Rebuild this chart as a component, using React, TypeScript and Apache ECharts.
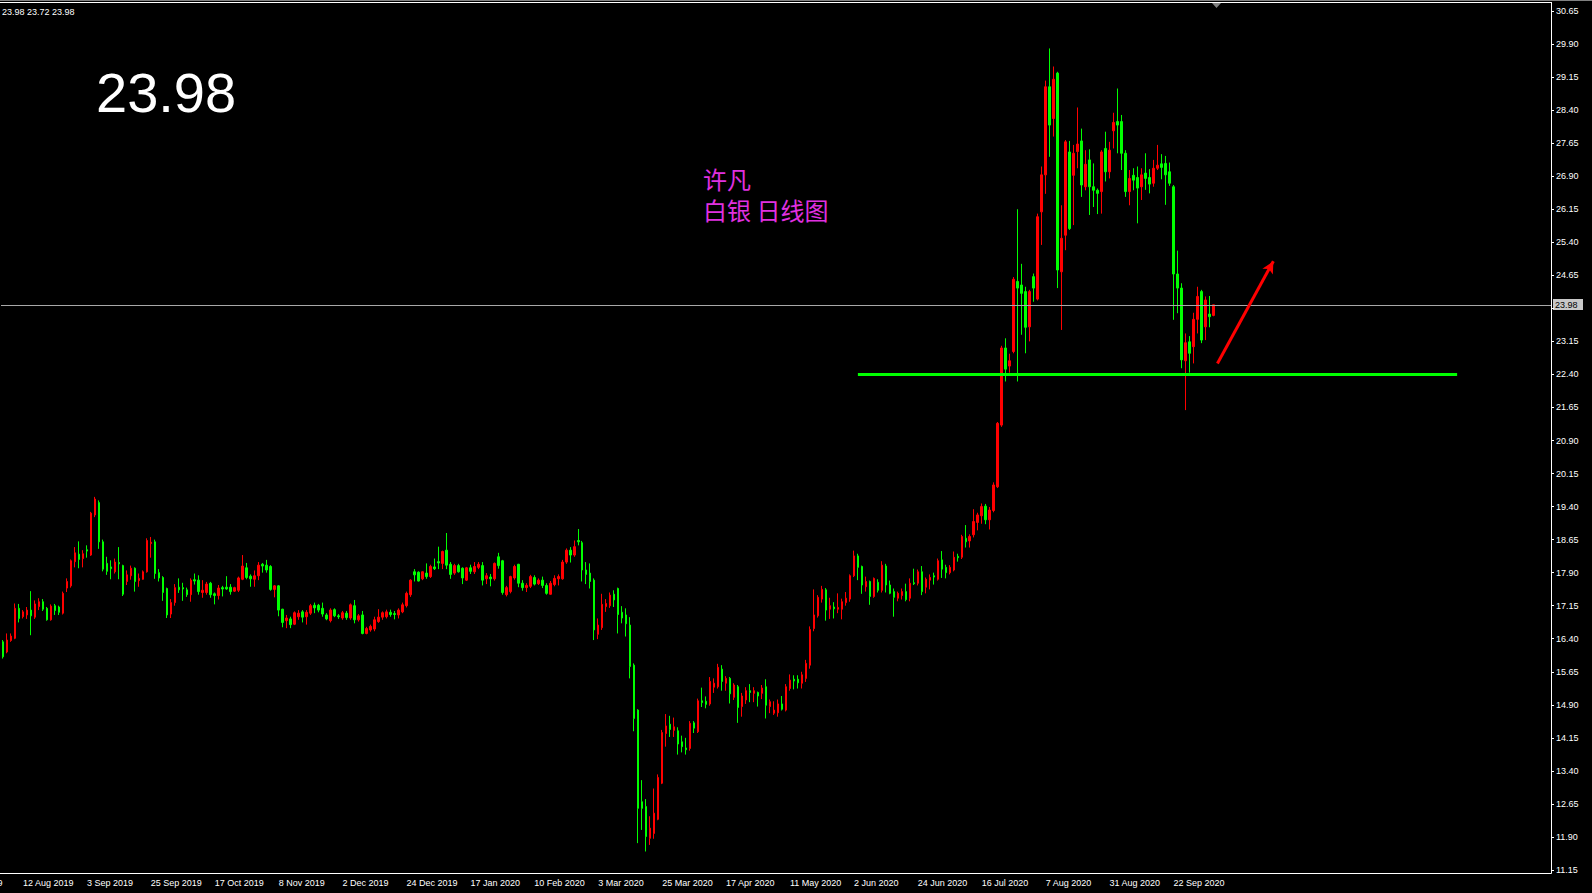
import React, { useEffect, useRef } from "react";
import * as echarts from "echarts";

// candle tuple: [open, close, low, high]
type C = [number, number, number, number];

const augSep2019: C[] = [
  [16.33, 15.99, 15.95, 16.37], [16.1, 16.37, 16.07, 16.52], [16.36, 16.46, 16.33, 16.52], [16.41, 17.09, 16.39, 17.2],
  [17.09, 16.86, 16.77, 17.19], [16.9, 17.01, 16.86, 17.05], [16.94, 17.05, 16.85, 17.12], [17.05, 16.92, 16.48, 17.48],
  [16.89, 17.19, 16.85, 17.27], [17.13, 17.24, 17.05, 17.32], [17.24, 17.07, 17.03, 17.3], [17.09, 16.83, 16.81, 17.12],
  [16.83, 17.14, 16.81, 17.18], [17.15, 17.04, 16.94, 17.19], [17.12, 17.0, 16.94, 17.15], [16.98, 17.43, 16.95, 17.47],
  [17.55, 17.7, 17.46, 17.77], [17.6, 18.17, 17.56, 18.2], [18.15, 18.35, 18.02, 18.48], [18.32, 18.2, 18.0, 18.61],
  [18.22, 18.33, 18.02, 18.41], [18.42, 18.39, 18.24, 18.52], [18.3, 19.25, 18.28, 19.28], [19.21, 19.57, 19.16, 19.62],
  [19.49, 18.6, 18.44, 19.54], [18.6, 17.98, 17.93, 18.65], [18.11, 17.93, 17.85, 18.26], [18.03, 17.99, 17.75, 18.18],
  [17.92, 18.14, 17.88, 18.22], [18.13, 18.1, 17.75, 18.48], [18.06, 17.41, 17.37, 18.08], [17.7, 17.85, 17.62, 17.95],
];
const sepOct2019: C[] = [
  [17.83, 18.0, 17.74, 18.06], [18.0, 17.7, 17.47, 18.02], [17.72, 17.77, 17.58, 17.88], [17.75, 17.92, 17.74, 17.95],
  [17.92, 18.63, 17.9, 18.68], [18.56, 18.59, 18.24, 18.71], [18.6, 17.88, 17.76, 18.65], [17.9, 17.78, 17.7, 17.98],
  [17.79, 17.45, 17.26, 17.82], [17.54, 16.94, 16.87, 17.56], [16.96, 17.22, 16.87, 17.3], [17.22, 17.56, 17.15, 17.64],
  [17.57, 17.51, 17.44, 17.77], [17.56, 17.53, 17.26, 17.67], [17.51, 17.4, 17.35, 17.56], [17.4, 17.73, 17.24, 17.77],
  [17.74, 17.71, 17.63, 17.88], [17.73, 17.47, 17.4, 17.84], [17.45, 17.5, 17.33, 17.73], [17.45, 17.64, 17.4, 17.69],
  [17.66, 17.4, 17.33, 17.69], [17.42, 17.38, 17.18, 17.45], [17.38, 17.55, 17.29, 17.62], [17.56, 17.53, 17.36, 17.6],
  [17.57, 17.53, 17.51, 17.82], [17.57, 17.47, 17.4, 17.64], [17.48, 17.56, 17.46, 17.58], [17.5, 17.78, 17.46, 17.81],
  [17.75, 18.05, 17.73, 18.3], [18.01, 17.79, 17.75, 18.12], [17.82, 17.76, 17.58, 17.86], [17.75, 17.83, 17.58, 17.95],
];
const novDec2019: C[] = [
  [17.83, 18.07, 17.73, 18.14], [18.09, 18.05, 17.9, 18.12], [18.07, 17.96, 17.9, 18.19], [18.04, 17.52, 17.49, 18.07],
  [17.52, 17.6, 17.34, 17.62], [17.6, 17.05, 16.91, 17.62], [17.07, 16.77, 16.66, 17.08], [16.81, 16.87, 16.64, 16.94],
  [16.85, 16.72, 16.64, 16.9], [16.73, 16.99, 16.71, 17.02], [16.9, 16.98, 16.83, 17.05], [17.01, 16.89, 16.77, 17.05],
  [16.9, 17.0, 16.72, 17.05], [16.98, 17.15, 16.94, 17.19], [17.16, 17.1, 16.98, 17.22], [17.16, 17.05, 17.0, 17.19],
  [17.09, 16.96, 16.9, 17.22], [16.94, 16.85, 16.82, 16.98], [16.81, 17.05, 16.77, 17.09], [17.06, 16.92, 16.89, 17.09],
  [16.92, 16.9, 16.85, 16.96], [16.87, 16.99, 16.83, 17.03], [16.98, 16.88, 16.83, 17.03], [16.87, 17.17, 16.83, 17.2],
  [17.15, 16.83, 16.75, 17.28], [16.83, 16.92, 16.79, 16.96], [16.94, 16.52, 16.5, 17.03], [16.52, 16.63, 16.5, 16.67],
  [16.6, 16.68, 16.56, 16.72], [16.62, 16.83, 16.57, 16.9], [16.79, 16.89, 16.76, 17.07],
];
const decJan2020: C[] = [
  [16.89, 16.99, 16.83, 17.02], [16.9, 17.01, 16.86, 17.06], [17.0, 16.95, 16.9, 17.06], [16.97, 16.95, 16.84, 17.03],
  [16.94, 17.05, 16.86, 17.09], [17.01, 17.17, 16.98, 17.22], [17.15, 17.43, 17.11, 17.47], [17.4, 17.73, 17.35, 17.75],
  [17.92, 17.85, 17.7, 17.98], [17.91, 17.71, 17.7, 17.93], [17.76, 17.92, 17.73, 17.93], [17.89, 17.81, 17.76, 18.11],
  [17.81, 18.04, 17.78, 18.08], [18.03, 17.99, 17.96, 18.22], [18.15, 18.12, 17.98, 18.49], [18.11, 18.38, 17.98, 18.4],
  [18.41, 18.07, 17.98, 18.8], [18.09, 17.86, 17.76, 18.14], [17.89, 18.06, 17.85, 18.1], [18.06, 17.92, 17.9, 18.1],
  [18.0, 17.78, 17.64, 18.02], [17.73, 18.01, 17.71, 18.03], [18.01, 17.93, 17.87, 18.08], [17.92, 18.04, 17.87, 18.14],
  [18.02, 18.09, 17.98, 18.14], [18.06, 17.73, 17.61, 18.14], [17.76, 17.83, 17.64, 17.89], [17.8, 17.76, 17.59, 17.87],
  [17.76, 18.11, 17.72, 18.13], [18.26, 18.06, 17.99, 18.35], [18.17, 17.45, 17.4, 18.19],
];
const febMar2020: C[] = [
  [17.4, 17.56, 17.36, 17.6], [17.47, 17.81, 17.43, 17.83], [17.78, 18.04, 17.74, 18.08], [18.09, 17.66, 17.57, 18.1],
  [17.66, 17.56, 17.49, 17.73], [17.56, 17.61, 17.46, 17.66], [17.59, 17.81, 17.55, 17.85], [17.79, 17.64, 17.61, 17.84],
  [17.65, 17.73, 17.62, 17.77], [17.73, 17.61, 17.55, 17.81], [17.61, 17.43, 17.4, 17.66], [17.41, 17.66, 17.4, 17.71],
  [17.63, 17.77, 17.59, 17.84], [17.76, 17.81, 17.61, 17.86], [17.76, 18.14, 17.74, 18.19], [18.14, 18.41, 18.1, 18.45],
  [18.41, 18.3, 18.13, 18.48], [18.3, 18.49, 18.26, 18.63], [18.63, 18.6, 18.52, 18.89], [18.58, 17.96, 17.7, 18.62],
  [17.96, 17.86, 17.64, 18.14], [17.89, 17.7, 17.54, 18.11], [17.73, 16.6, 16.37, 17.77], [16.5, 16.71, 16.39, 16.86],
  [16.65, 17.18, 16.6, 17.42], [17.13, 17.2, 17.01, 17.3], [17.15, 17.39, 17.1, 17.45], [17.41, 17.28, 17.12, 17.5],
  [17.54, 16.95, 16.52, 17.56], [17.0, 16.87, 16.75, 17.14], [16.94, 16.74, 16.45, 17.09], [16.71, 15.77, 15.5, 16.89],
];
const marApr2020: C[] = [
  [15.8, 14.59, 14.3, 15.84], [14.78, 12.55, 11.76, 14.8], [12.7, 12.55, 12.06, 13.19], [12.59, 11.91, 11.57, 12.76],
  [11.87, 12.1, 11.72, 12.37], [11.98, 12.44, 11.86, 13.0], [12.3, 13.25, 12.28, 13.32], [13.12, 14.27, 13.1, 14.33],
  [14.25, 14.42, 13.95, 14.69], [14.46, 14.34, 14.17, 14.65], [14.32, 14.4, 14.17, 14.61], [14.31, 14.01, 13.77, 14.39],
  [14.06, 13.95, 13.82, 14.2], [13.92, 13.88, 13.77, 14.15], [13.91, 14.48, 13.86, 14.53], [14.49, 14.37, 14.26, 14.53],
  [14.29, 14.99, 14.26, 15.04], [14.99, 14.95, 14.85, 15.29], [14.98, 14.91, 14.82, 15.09], [14.92, 15.43, 14.88, 15.53],
  [15.3, 15.39, 15.17, 15.5], [15.31, 15.75, 15.27, 15.83], [15.71, 15.43, 15.22, 15.8], [15.39, 15.5, 15.22, 15.55],
  [15.5, 15.15, 14.93, 15.53], [15.07, 15.35, 15.01, 15.39], [15.31, 14.84, 14.49, 15.35],
];
const aprJun2020: C[] = [
  [14.86, 15.1, 14.63, 15.17], [15.01, 15.22, 14.92, 15.3], [15.22, 15.18, 14.96, 15.37], [15.16, 15.22, 14.96, 15.3],
  [15.18, 15.1, 14.86, 15.2], [15.16, 15.28, 15.03, 15.35], [15.31, 14.89, 14.59, 15.48], [14.86, 14.97, 14.71, 15.02],
  [14.71, 14.78, 14.67, 14.98], [14.72, 14.92, 14.63, 15.02], [14.92, 14.8, 14.77, 15.1], [14.78, 15.31, 14.75, 15.37],
  [15.27, 15.46, 15.22, 15.59], [15.48, 15.44, 15.25, 15.57], [15.48, 15.4, 15.27, 15.57], [15.39, 15.58, 15.27, 15.65],
  [15.5, 15.84, 15.42, 15.92], [15.8, 16.61, 15.72, 16.68], [16.63, 16.94, 16.57, 17.52], [16.92, 17.34, 16.88, 17.39],
  [17.3, 17.52, 17.22, 17.6], [17.51, 17.05, 16.81, 17.55], [17.07, 17.15, 16.85, 17.33], [17.12, 17.08, 16.86, 17.23],
  [17.07, 17.11, 16.98, 17.43], [17.07, 17.24, 16.84, 17.31], [17.22, 17.32, 17.15, 17.46], [17.3, 17.83, 17.24, 17.86],
  [17.83, 18.28, 17.8, 18.4],
];
const junJul2020: C[] = [
  [18.28, 18.02, 17.73, 18.33], [18.04, 17.62, 17.42, 18.06], [17.58, 17.7, 17.47, 17.81], [17.7, 17.36, 17.17, 17.72],
  [17.36, 17.77, 17.33, 17.79], [17.68, 17.5, 17.45, 17.75], [17.5, 18.07, 17.45, 18.16], [18.05, 17.62, 17.45, 18.1],
  [17.62, 17.43, 17.41, 17.72], [17.47, 17.34, 16.9, 17.54], [17.32, 17.43, 17.25, 17.47], [17.38, 17.47, 17.29, 17.54],
  [17.47, 17.29, 17.25, 17.65], [17.32, 17.66, 17.25, 17.77], [17.67, 17.65, 17.62, 17.99], [17.66, 17.92, 17.61, 17.97],
  [17.92, 17.47, 17.39, 18.05], [17.57, 17.75, 17.43, 17.79], [17.73, 17.79, 17.52, 17.86], [17.83, 17.8, 17.63, 17.9],
  [17.75, 18.17, 17.72, 18.22], [18.19, 17.98, 17.78, 18.39], [18.02, 17.9, 17.77, 18.08], [17.9, 18.02, 17.86, 18.07],
  [17.96, 18.25, 17.93, 18.38], [18.27, 18.24, 18.15, 18.33], [18.25, 18.72, 18.21, 18.76], [18.68, 18.6, 18.47, 18.98],
  [18.62, 18.72, 18.47, 18.77], [18.76, 19.06, 18.7, 19.34], [19.04, 19.21, 18.86, 19.26], [19.19, 19.4, 19.01, 19.47],
];
const julAug2020: C[] = [
  [19.41, 19.1, 19.0, 19.46], [19.1, 19.32, 18.88, 19.39], [19.31, 19.89, 19.27, 19.95], [19.85, 21.29, 19.82, 21.32],
  [21.25, 23.0, 21.21, 23.05], [23.0, 22.52, 22.24, 23.22], [22.59, 22.71, 22.44, 22.87], [22.92, 24.56, 22.88, 24.61],
  [24.51, 24.36, 22.24, 26.15], [24.43, 24.24, 23.3, 24.91], [24.28, 23.47, 22.88, 24.39], [23.48, 24.28, 23.15, 24.32],
  [24.62, 24.36, 24.05, 24.69], [24.11, 25.98, 24.08, 26.05], [26.09, 26.93, 25.34, 27.12], [26.93, 28.93, 26.5, 29.07],
  [28.93, 28.06, 27.34, 29.8], [28.21, 29.1, 27.8, 29.39], [29.24, 24.77, 24.36, 29.27],
];
const augSep2020: C[] = [
  [24.73, 25.49, 23.41, 26.24], [25.56, 27.68, 25.22, 27.72], [27.45, 25.71, 25.68, 27.7], [26.92, 27.42, 25.79, 27.61],
  [27.46, 27.63, 27.08, 28.46], [27.7, 26.7, 26.43, 27.98], [26.66, 27.17, 26.58, 27.49], [27.27, 26.66, 26.02, 27.51],
  [26.66, 26.58, 26.2, 27.19], [26.58, 26.51, 26.04, 26.62], [26.55, 27.45, 26.05, 27.49], [27.53, 27.0, 26.78, 27.91],
  [27.0, 27.49, 26.85, 27.68], [27.93, 28.12, 27.53, 28.34], [28.14, 28.06, 27.42, 28.89], [28.14, 27.42, 27.04, 28.29],
  [27.42, 26.55, 26.43, 27.49], [26.55, 26.85, 26.24, 27.04], [26.92, 26.81, 26.58, 27.08],
];
const sepOct2020: C[] = [
  [26.87, 26.63, 25.83, 27.12], [26.66, 26.93, 26.36, 27.08], [26.97, 26.85, 26.59, 27.42], [26.87, 26.72, 26.51, 27.06],
  [26.74, 27.08, 26.66, 27.27], [27.08, 27.15, 27.04, 27.61], [27.18, 27.1, 26.83, 27.4], [27.19, 26.93, 26.25, 27.36],
  [27.0, 26.74, 26.68, 27.21], [26.66, 24.68, 23.64, 26.7], [24.68, 24.36, 23.79, 25.21], [24.36, 22.73, 22.54, 24.47],
  [22.71, 23.12, 21.59, 23.33], [23.14, 22.88, 22.44, 23.27], [23.03, 23.65, 22.65, 23.8], [23.65, 24.17, 23.33, 24.39],
  [24.28, 23.18, 23.11, 24.32], [23.48, 24.09, 23.18, 24.17], [23.77, 23.71, 23.47, 24.18], [23.74, 23.98, 23.72, 23.98],
];

const dateTickLabels = [
  "12 Aug 2019", "3 Sep 2019", "25 Sep 2019", "17 Oct 2019", "8 Nov 2019", "2 Dec 2019", "24 Dec 2019",
  "17 Jan 2020", "10 Feb 2020", "3 Mar 2020", "25 Mar 2020", "17 Apr 2020", "11 May 2020", "2 Jun 2020",
  "24 Jun 2020", "16 Jul 2020", "7 Aug 2020", "31 Aug 2020", "22 Sep 2020",
];
const firstTickBar = 6;
const tickEveryBars = 16;
const cutLabel = "19 Jul 2019";

const lastPrice = 23.98;
const headerText = "23.98 23.72 23.98";
const noteText = "许凡\n白银 日线图";
const supportLevel = 22.41;
const supportFrom = 214;
const supportTo = 364;
const arrowFrom: [number, number] = [304, 22.65];
const arrowTo: [number, number] = [318, 24.97];

const priceMin = 11.15;
const priceMax = 30.65;
const priceStep = 0.75;

const TOTAL_SLOTS = 388;

export default function App() {
  const ref = useRef<HTMLDivElement>(null);
  useEffect(() => {
    if (!ref.current) return;
    const chart = echarts.init(ref.current, undefined, { renderer: "svg" });
    const candles: C[] = [
      ...augSep2019, ...sepOct2019, ...novDec2019, ...decJan2020, ...febMar2020, ...marApr2020,
      ...aprJun2020, ...junJul2020, ...julAug2020, ...augSep2020, ...sepOct2020,
    ];
    const cats = Array.from({ length: TOTAL_SLOTS }, (_, i) => String(i));
    // MT4 draws the date text starting one bar before the bar it names
    const labelAt: Record<number, string> = {};
    dateTickLabels.forEach((t, j) => {
      labelAt[firstTickBar + j * tickEveryBars - 1] = t;
    });
    const font = "'Liberation Sans', Arial, sans-serif";
    chart.setOption({
      animation: false,
      backgroundColor: "#000000",
      grid: { left: -1, top: 11, width: TOTAL_SLOTS * 4, height: 859, containLabel: false },
      xAxis: {
        type: "category",
        data: cats,
        boundaryGap: true,
        axisLine: { show: false },
        axisTick: { show: false },
        splitLine: { show: false },
        axisLabel: {
          interval: 0,
          align: "left",
          margin: 8,
          color: "#ffffff",
          fontSize: 9,
          fontFamily: font,
          formatter: (_v: string, idx: number) => labelAt[idx] || "",
        },
      },
      yAxis: {
        type: "value",
        position: "right",
        min: priceMin,
        max: priceMax,
        interval: priceStep,
        scale: true,
        axisLine: { show: false },
        axisTick: { show: true, length: 3, lineStyle: { color: "#ffffff" } },
        splitLine: { show: false },
        axisLabel: {
          color: "#ffffff",
          fontSize: 9,
          fontFamily: font,
          margin: 5,
          // the label under the current-price box is hidden by it
          formatter: (v: number) => (Math.abs(v - 23.9) < 0.01 ? "" : v.toFixed(2)),
        },
      },
      series: [
        {
          type: "candlestick",
          data: candles,
          barWidth: 2,
          itemStyle: {
            color: "#ff0000",
            color0: "#00ff00",
            borderColor: "#ff0000",
            borderColor0: "#00ff00",
            borderWidth: 1,
          },
          silent: true,
          markLine: {
            silent: true,
            animation: false,
            symbol: ["none", "none"],
            label: { show: false },
            data: [{ yAxis: lastPrice }],
            lineStyle: { color: "#a8a8a8", width: 1, type: "solid" },
          },
        },
        {
          type: "line",
          data: [],
          markLine: {
            silent: true,
            animation: false,
            symbol: ["none", "none"],
            label: { show: false },
            lineStyle: { color: "#00ff00", width: 3, type: "solid" },
            data: [[{ coord: [supportFrom, supportLevel] }, { coord: [supportTo, supportLevel] }]],
          },
        },
        {
          type: "line",
          data: [],
          markLine: {
            silent: true,
            animation: false,
            symbol: ["none", "arrow"],
            symbolSize: [9, 12],
            label: { show: false },
            lineStyle: { color: "#ff0000", width: 3, type: "solid" },
            itemStyle: { color: "#ff0000" },
            data: [[{ coord: arrowFrom }, { coord: arrowTo }]],
          },
        },
      ],
      graphic: [
        { type: "line", shape: { x1: 0, y1: 0.5, x2: 1592, y2: 0.5 }, style: { stroke: "#808080", lineWidth: 1 } },
        { type: "line", shape: { x1: 0, y1: 2.5, x2: 1551.5, y2: 2.5 }, style: { stroke: "#ffffff", lineWidth: 1 } },
        { type: "line", shape: { x1: 1551.5, y1: 2, x2: 1551.5, y2: 873.5 }, style: { stroke: "#ffffff", lineWidth: 1 } },
        { type: "line", shape: { x1: 0, y1: 873.5, x2: 1551.5, y2: 873.5 }, style: { stroke: "#ffffff", lineWidth: 1 } },
        { type: "polygon", shape: { points: [[1212, 3], [1221, 3], [1216.5, 8]] }, style: { fill: "#808080" } },
        {
          type: "text", x: 2, y: 7,
          style: { text: headerText, fill: "#ffffff", font: `9px ${font}` },
        },
        {
          type: "text", x: 96, y: 64,
          style: { text: "23.98", fill: "#ffffff", font: `56px ${font}` },
        },
        {
          type: "text", x: 703, y: 162.5,
          style: { text: noteText, fill: "#e030e0", font: "24px 'Noto Sans CJK SC'", lineHeight: 31 },
        },
        {
          type: "text", x: -44, y: 878,
          style: { text: cutLabel, fill: "#ffffff", font: `9px ${font}` },
        },
        {
          type: "group", z: 100,
          children: [
            { type: "rect", shape: { x: 1553, y: 299, width: 30, height: 11 }, style: { fill: "#c8c8c8" } },
            { type: "text", x: 1555, y: 300, style: { text: "23.98", fill: "#000000", font: `9px ${font}` } },
          ],
        },
      ],
    });
    return () => chart.dispose();
  }, []);
  return <div ref={ref} style={{ position: "fixed", left: 0, top: 0, width: 1592, height: 893 }} />;
}
